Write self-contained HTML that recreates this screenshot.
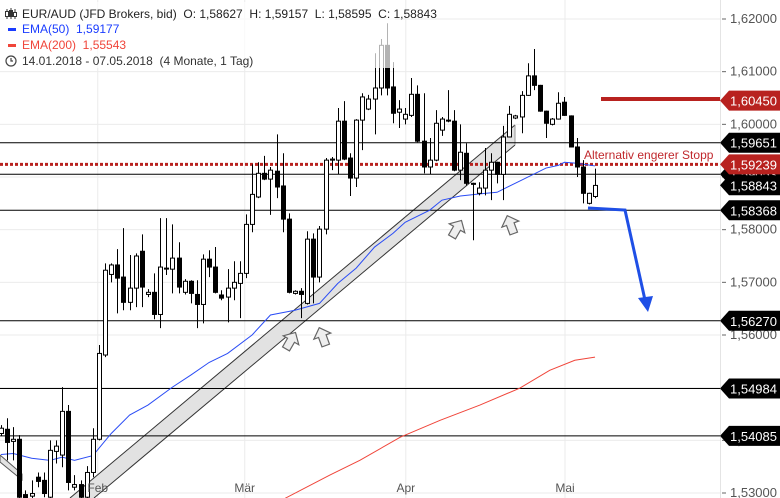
<!DOCTYPE html>
<html><head><meta charset="utf-8"><style>
html,body{margin:0;padding:0;background:#fff;}
svg{display:block;font-family:"Liberation Sans",sans-serif;}
</style></head><body>
<svg id="chart" width="780" height="498" viewBox="0 0 780 498" xmlns="http://www.w3.org/2000/svg">
<g id="grid"></g>
<g id="channel">
<polygon points="70,498 515,125 515,145 94,498" fill="#e2e2e2" stroke="none"/>
<line x1="70" y1="498" x2="515" y2="125" stroke="#333" stroke-width="1"/>
<line x1="94" y1="498" x2="515" y2="145" stroke="#333" stroke-width="1"/>
<line x1="515" y1="125" x2="515" y2="145" stroke="#999" stroke-width="1"/>
<polygon points="0,455 22,474 22,480 0,462" fill="#e2e2e2" stroke="#555" stroke-width="1"/>
</g>
<g id="hlines"></g>
<g id="ema"></g>
<g id="candles"></g>
<g id="annot">
<line x1="601" y1="99" x2="720" y2="99" stroke="#b8221f" stroke-width="4"/>
<text x="584" y="159" font-size="12" fill="#c0282d">Alternativ engerer Stopp</text>
<polyline points="588,208 625,210 645,300" fill="none" stroke="#1f4fe6" stroke-width="3"/>
<polygon points="638,298 653,296 648,312" fill="#1f4fe6"/>
<g transform="translate(290,342) rotate(30)"><polygon points="-4,8 -4,-2 -9,-2 0,-11 9,-2 4,-2 4,8" fill="#eee" stroke="#666" stroke-width="1.2"/></g>
<g transform="translate(323,338) rotate(-20)"><polygon points="-4,8 -4,-2 -9,-2 0,-11 9,-2 4,-2 4,8" fill="#eee" stroke="#666" stroke-width="1.2"/></g>
<g transform="translate(456,230) rotate(30)"><polygon points="-4,8 -4,-2 -9,-2 0,-11 9,-2 4,-2 4,8" fill="#eee" stroke="#666" stroke-width="1.2"/></g>
<g transform="translate(511,226) rotate(-20)"><polygon points="-4,8 -4,-2 -9,-2 0,-11 9,-2 4,-2 4,8" fill="#eee" stroke="#666" stroke-width="1.2"/></g>
</g>
<g id="axis"></g>
<g id="xaxis"></g>
<g id="legend">
<rect x="0" y="2" width="395" height="66" fill="#fff" opacity="0.7"/>
<g stroke="#333" stroke-width="1" fill="#fff">
<line x1="7" y1="9" x2="7" y2="19"/><rect x="5.5" y="11.5" width="3" height="5"/>
<line x1="11" y1="8" x2="11" y2="19"/><rect x="9.5" y="10.5" width="3" height="6" fill="#333"/>
<line x1="15" y1="9" x2="15" y2="19"/><rect x="13.5" y="12.5" width="3" height="4"/>
</g>
<text x="22" y="18" font-size="12" fill="#222" xml:space="preserve">EUR/AUD (JFD Brokers, bid)  O: 1,58627  H: 1,59157  L: 1,58595  C: 1,58843</text>
<rect x="8" y="28" width="8" height="3" fill="#1a3cff"/>
<text x="22" y="33" font-size="12" fill="#1a3cff" xml:space="preserve">EMA(50)  1,59177</text>
<rect x="8" y="44" width="8" height="3" fill="#f0453a"/>
<text x="22" y="49" font-size="12" fill="#f0453a" xml:space="preserve">EMA(200)  1,55543</text>
<circle cx="11" cy="61" r="5" fill="none" stroke="#444" stroke-width="1.2"/><path d="M11 58 V61 H13" stroke="#444" fill="none" stroke-width="1.2"/>
<text x="22" y="65" font-size="12" fill="#333" xml:space="preserve">14.01.2018 - 07.05.2018  (4 Monate, 1 Tag)</text>
</g>
</svg>
<script>
const opens=[1.5413,1.5421,1.5398,1.5402,1.5297,1.5294,1.5330,1.5324,1.5292,1.5379,1.5372,1.5455,1.5311,1.5316,1.5292,1.5339,1.5402,1.5562,1.5715,1.5733,1.5710,1.5662,1.5689,1.5759,1.5677,1.5681,1.5639,1.5726,1.5725,1.5746,1.5681,1.5702,1.5677,1.5658,1.5744,1.5729,1.5676,1.5672,1.5689,1.5698,1.5717,1.5810,1.5862,1.5907,1.5896,1.5911,1.5883,1.5820,1.5679,1.5683,1.5660,1.5782,1.5710,1.5801,1.5932,1.5932,1.6006,1.5936,1.5898,1.6008,1.6029,1.6048,1.6069,1.6150,1.6071,1.6023,1.6010,1.6017,1.6057,1.5968,1.5919,1.5932,1.5989,1.6008,1.6006,1.5913,1.5945,1.5888,1.5869,1.5879,1.5913,1.5928,1.5905,1.5976,1.6012,1.6014,1.6055,1.6092,1.6074,1.6025,1.6000,1.6010,1.6042,1.6016,1.5957,1.5919,1.5850,1.5863];
const highs=[1.5429,1.5442,1.5425,1.5410,1.5305,1.5324,1.5339,1.5339,1.5400,1.5400,1.5501,1.5467,1.5334,1.5324,1.5351,1.5423,1.5581,1.5736,1.5736,1.5763,1.5803,1.5752,1.5755,1.5791,1.5687,1.5717,1.5822,1.5822,1.5810,1.5776,1.5706,1.5704,1.5704,1.5753,1.5761,1.5767,1.5685,1.5725,1.5740,1.5740,1.5829,1.5924,1.5928,1.5940,1.5919,1.5981,1.5945,1.5831,1.5685,1.5689,1.5797,1.5793,1.5807,1.5936,1.5938,1.6031,1.6044,1.5945,1.6010,1.6059,1.6056,1.6135,1.6162,1.6192,1.6118,1.6046,1.6031,1.6088,1.6074,1.6059,1.5974,1.6027,1.6014,1.6065,1.6027,1.6000,1.5964,1.5889,1.5890,1.5955,1.5945,1.5929,1.5997,1.6035,1.6018,1.6063,1.6116,1.6143,1.6075,1.6026,1.6012,1.6061,1.6052,1.6017,1.5974,1.5932,1.5870,1.5916];
const lows=[1.5408,1.5362,1.5362,1.5286,1.5280,1.5280,1.5311,1.5292,1.5280,1.5356,1.5349,1.5305,1.5305,1.5280,1.5280,1.5330,1.5400,1.5558,1.5700,1.5641,1.5647,1.5647,1.5653,1.5653,1.5672,1.5630,1.5613,1.5714,1.5679,1.5679,1.5677,1.5660,1.5613,1.5622,1.5710,1.5679,1.5666,1.5624,1.5666,1.5632,1.5708,1.5795,1.5860,1.5894,1.5828,1.5860,1.5795,1.5679,1.5677,1.5632,1.5658,1.5660,1.5700,1.5791,1.5913,1.5905,1.5932,1.5864,1.5881,1.5951,1.6027,1.5981,1.6055,1.6055,1.6002,1.5993,1.6000,1.6014,1.5966,1.5907,1.5905,1.5930,1.5978,1.6004,1.5911,1.5894,1.5884,1.5780,1.5865,1.5865,1.5856,1.5888,1.5856,1.5975,1.6010,1.5983,1.6054,1.6065,1.6024,1.5974,1.5998,1.6009,1.6016,1.5956,1.5900,1.5850,1.5848,1.5860];
const closes=[1.5423,1.5396,1.5402,1.5292,1.5286,1.5299,1.5322,1.5299,1.5381,1.5389,1.5455,1.5320,1.5316,1.5292,1.5339,1.5402,1.5565,1.5723,1.5733,1.5708,1.5662,1.5689,1.5750,1.5691,1.5681,1.5639,1.5729,1.5727,1.5746,1.5691,1.5702,1.5679,1.5658,1.5744,1.5729,1.5681,1.5670,1.5689,1.5700,1.5717,1.5810,1.5867,1.5907,1.5896,1.5913,1.5881,1.5820,1.5681,1.5683,1.5677,1.5782,1.5710,1.5801,1.5932,1.5934,1.6006,1.5934,1.5898,1.6008,1.6052,1.6048,1.6069,1.6150,1.6069,1.6021,1.6029,1.6019,1.6057,1.5968,1.5919,1.5932,1.6002,1.6010,1.6008,1.5913,1.5947,1.5888,1.5886,1.5879,1.5913,1.5928,1.5905,1.5976,1.6019,1.6016,1.6055,1.6092,1.6074,1.6025,1.6002,1.6010,1.6040,1.6017,1.5957,1.5919,1.5869,1.5869,1.5884];
const ema50Idx=[0,2,5,8,10,12,15,18,21,24,28,31,34,37,41,44,48,52,55,58,61,64,66,70,72,75,79,81,85,89,91,92,94,97];
const ema50Val=[1.5373,1.5375,1.5366,1.5362,1.5368,1.5362,1.5371,1.5413,1.5448,1.5467,1.5501,1.5524,1.5548,1.5565,1.5600,1.5638,1.5647,1.5660,1.5698,1.5727,1.5767,1.5793,1.5814,1.5837,1.5856,1.5864,1.5869,1.5871,1.5894,1.5917,1.5922,1.5928,1.5926,1.5921];
const ema200Idx=[46.4,53.7,58.6,65.2,71.7,78.2,84.7,89.6,93.7,97];
const ema200Val=[1.5290,1.5334,1.5362,1.5406,1.5438,1.5467,1.5499,1.5533,1.5552,1.5558];
const yTicks=[1.62,1.61,1.60,1.59,1.58,1.57,1.56,1.55,1.54,1.53];
const levels=[1.59651,1.59053,1.58368,1.56270,1.54984,1.54085];
const stopLevel=1.59239;
const tagValues=[1.60450,1.59651,1.59053,1.58843,1.59239,1.58368,1.56270,1.54984,1.54085];
const tagRed=[true,false,false,false,true,false,false,false,false];
const monthLabels=["Feb","Mär","Apr","Mai"];
const monthIdx=[15.8,39.8,66.1,92.1];

const NS="http://www.w3.org/2000/svg";
const PW=720;
function y(p){return 19+(1.62-p)*5266.7;}
function x(i){return 1+i*6.124;}
function mk(tag,attrs,parent){const e=document.createElementNS(NS,tag);for(const k in attrs)e.setAttribute(k,attrs[k]);parent.appendChild(e);return e;}
const fmt=v=>v.toFixed(5).replace('.',',');

const grid=document.getElementById('grid');
yTicks.forEach(t=>{const l=mk('line',{x1:0,x2:PW,y1:y(t),y2:y(t),stroke:'#ebebeb','stroke-width':1},grid);

});
monthIdx.forEach(m=>{const l=mk('line',{x1:x(m),x2:x(m),y1:0,y2:498,stroke:'#ebebeb','stroke-width':1},grid);

});
mk('rect',{x:PW,y:0,width:60,height:498,fill:'#fff'},grid);
mk('line',{x1:PW+0.5,x2:PW+0.5,y1:0,y2:498,stroke:'#e4e4e4'},grid);

const hl=document.getElementById('hlines');
levels.forEach(v=>{const l=mk('line',{x1:0,x2:PW,y1:y(v),y2:y(v),stroke:'#000','stroke-width':1},hl);

});
const sl=mk('line',{x1:0,x2:PW,y1:y(stopLevel),y2:y(stopLevel),stroke:'#b8221f','stroke-width':3,'stroke-dasharray':'3,2'},hl);



const em=document.getElementById('ema');
const p1=mk('polyline',{points:ema50Idx.map((i,k)=>x(i)+','+y(ema50Val[k])).join(' '),fill:'none',stroke:'#2a4cf5','stroke-width':1},em);


const p2=mk('polyline',{points:ema200Idx.map((i,k)=>x(i)+','+y(ema200Val[k])).join(' '),fill:'none',stroke:'#f0453a','stroke-width':1},em);



const cg=document.getElementById('candles');
opens.forEach((o,i)=>{
  const c=closes[i],cx=Math.round(x(i))+0.5;
  const g=mk('g',{},cg);
  
  
  mk('line',{x1:cx,x2:cx,y1:y(highs[i]),y2:y(lows[i]),stroke:'#000','stroke-width':1},g);
  const top=Math.min(y(o),y(c)),h=Math.max(1,Math.abs(y(o)-y(c)));
  mk('rect',{x:cx-2,y:top,width:4,height:h,fill:c>=o?'#fff':'#000',stroke:'#000','stroke-width':1},g);
});

const ax=document.getElementById('axis');
yTicks.forEach(t=>{
  mk('line',{x1:PW+2,x2:PW+6,y1:y(t),y2:y(t),stroke:'#666'},ax);
  const tx=mk('text',{x:730,y:y(t)+4,'font-size':13,fill:'#555'},ax);
  
  
  tx.textContent=fmt(t);
});
tagValues.forEach((v,k)=>{
  const yy=y(v);
  const g=mk('g',{},ax);
  
  
  mk('polygon',{points:`${PW},${yy} ${PW+9},${yy-10} 780,${yy-10} 780,${yy+10} ${PW+9},${yy+10}`,fill:tagRed[k]?'#b8221f':'#000'},g);
  const t=mk('text',{x:730,y:yy+5,'font-size':13,fill:'#fff'},g);
  t.textContent=fmt(v);
});

const xa=document.getElementById('xaxis');
monthLabels.forEach((m,k)=>{
  const t=mk('text',{x:x(monthIdx[k]),y:492,'font-size':12,fill:'#555','text-anchor':'middle'},xa);
  
  
  t.textContent=m;
});
</script>
</body></html>
